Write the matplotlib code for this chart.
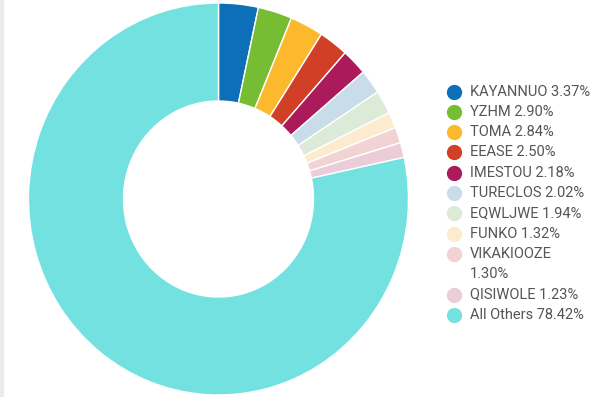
import matplotlib.pyplot as plt
from matplotlib.patches import Rectangle
from matplotlib.lines import Line2D

plt.rcParams['font.family'] = ['Roboto', 'DejaVu Sans']

# data
names = ["KAYANNUO", "YZHM", "TOMA", "EEASE", "IMESTOU", "TURECLOS",
         "EQWLJWE", "FUNKO", "VIKAKIOOZE", "QISIWOLE", "All Others"]
shares = [3.37, 2.90, 2.84, 2.50, 2.18, 2.02, 1.94, 1.32, 1.30, 1.23, 78.42]
colors = ["#0c6fb7", "#76bd34", "#fdb92e", "#d13f26", "#ab1a5b", "#c9dcea",
          "#dcebd7", "#fdebd0", "#f2d3d3", "#eacdd8", "#74e1e1"]
wrapped = ["VIKAKIOOZE"]

W, H = 603, 397
fig = plt.figure(figsize=(W / 100, H / 100), dpi=100)

# thin grey strip on the left edge
fig.patches.append(Rectangle((0, 0), 3 / W, 1, transform=fig.transFigure,
                             color='#ececec', zorder=0))

# donut (slightly taller than wide, as in the reference)
cx, cy, rx, ry = 218.5, 199, 190, 196
ax = fig.add_axes([(cx - rx) / W, (H - cy - ry) / H, 2 * rx / W, 2 * ry / H])
ax.pie(shares, colors=colors, startangle=90, counterclock=False,
       radius=1.0,
       wedgeprops=dict(width=0.5, edgecolor='white', linewidth=1.0))
ax.set_xlim(-1, 1)
ax.set_ylim(-1, 1)
ax.set_aspect('auto')
ax.axis('off')

# legend drawn by hand
y = 91.5
pitch = 20.3
for name, val, col in zip(names, shares, colors):
    if name in wrapped:
        lines = [name, f"{val:.2f}%"]
    else:
        lines = [f"{name} {val:.2f}%"]
    fig.lines.append(Line2D([454 / W], [(H - y) / H], marker='o', markersize=11,
                            markeredgewidth=0, color=col,
                            transform=fig.transFigure))
    for ln in lines:
        fig.text(470 / W, (H - y) / H, ln, fontsize=10.5, color='#555555',
                 va='center', ha='left')
        y += pitch

fig.savefig("out.png", dpi=100)
